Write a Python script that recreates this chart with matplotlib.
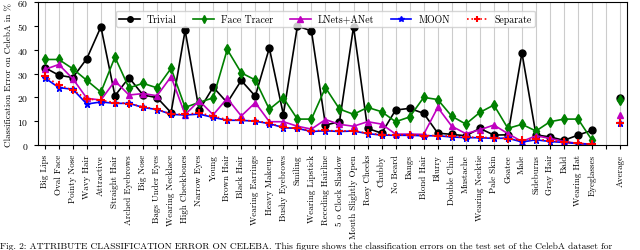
import numpy as np
import matplotlib
matplotlib.use("Agg")
import matplotlib.pyplot as plt

plt.rcParams['font.family'] = ['cmr10', 'DejaVu Serif']
plt.rcParams['mathtext.fontset'] = 'cm'
plt.rcParams['axes.formatter.use_mathtext'] = True

attributes = ["Big Lips", "Oval Face", "Pointy Nose", "Wavy Hair", "Attractive",
              "Straight Hair", "Arched Eyebrows", "Big Nose", "Bags Under Eyes",
              "Wearing Necklace", "High Cheekbones", "Narrow Eyes", "Young",
              "Brown Hair", "Black Hair", "Wearing Earrings", "Heavy Makeup",
              "Bushy Eyebrows", "Smiling", "Wearing Lipstick", "Receding Hairline",
              "5 o Clock Shadow", "Mouth Slightly Open", "Rosy Cheeks", "Chubby",
              "No Beard", "Bangs", "Blond Hair", "Blurry", "Double Chin", "Mustache",
              "Wearing Necktie", "Pale Skin", "Goatee", "Male", "Sideburns",
              "Gray Hair", "Bald", "Wearing Hat", "Eyeglasses"]

trivial = [32.5, 29.3, 28.3, 36.3, 49.6, 20.7, 28.3, 21.0, 19.9, 13.6, 48.1, 14.6, 24.3,
           17.8, 27.1, 20.5, 40.7, 12.8, 49.9, 47.9, 8.4, 9.8, 49.6, 7.0, 5.0, 14.7, 15.4,
           13.3, 5.0, 4.5, 3.9, 7.0, 4.2, 4.3, 38.7, 4.3, 3.4, 2.0, 4.2, 6.2]
face_tracer = [35.9, 35.9, 32.0, 27.1, 22.2, 36.9, 24.0, 25.9, 24.0, 32.2, 15.8, 17.9, 19.8,
               40.1, 30.3, 27.3, 15.0, 19.8, 10.9, 10.9, 24.1, 15.1, 12.9, 15.8, 14.0, 9.8, 11.8,
               20.0, 19.1, 12.1, 8.8, 13.7, 16.8, 7.0, 8.7, 5.9, 9.8, 10.9, 10.9, 2.0]
lnets = [31.7, 33.8, 27.8, 19.6, 18.9, 26.9, 21.0, 21.6, 20.7, 28.7, 12.8, 18.6, 12.7,
         19.6, 12.2, 17.8, 9.8, 9.8, 7.9, 6.7, 10.7, 8.7, 7.9, 9.8, 8.8, 4.6, 4.6,
         4.5, 15.8, 7.9, 4.8, 6.4, 8.4, 4.8, 1.5, 3.9, 2.8, 1.5, 0.7, 0.4]
moon = [28.2, 24.1, 23.4, 17.2, 18.1, 17.5, 17.5, 15.8, 14.9, 12.9, 12.6, 13.0, 11.6,
        10.4, 10.4, 10.0, 9.0, 7.3, 7.0, 5.7, 6.0, 5.7, 5.9, 4.8, 4.2, 4.1, 4.1,
        3.9, 3.9, 3.4, 3.1, 3.1, 2.8, 2.9, 1.3, 2.2, 1.5, 1.1, 0.6, 0.3]
separate = [28.9, 25.2, 23.1, 19.3, 18.8, 17.8, 17.4, 16.0, 15.0, 13.0, 12.9, 13.5, 12.1,
            10.7, 10.4, 10.1, 9.3, 7.4, 7.0, 6.0, 6.2, 5.8, 6.1, 4.9, 4.4, 4.3, 4.3,
            4.0, 4.0, 3.7, 3.3, 3.3, 3.0, 2.7, 2.0, 2.5, 1.8, 1.3, 0.7, 0.4]
averages = {"Trivial": 19.9, "Face Tracer": 18.9, "LNets+ANet": 12.7, "MOON": 9.1, "Separate": 9.2}

series = [
    ("Trivial", trivial, dict(color="black", linestyle="-", marker="o", markersize=5)),
    ("Face Tracer", face_tracer, dict(color="green", linestyle="-", marker="d", markersize=5)),
    ("LNets+ANet", lnets, dict(color="m", linestyle="-", marker="^", markersize=5)),
    ("MOON", moon, dict(color="blue", linestyle="-", marker="*", markersize=5)),
    ("Separate", separate, dict(color="red", linestyle=":", marker="+", markersize=6, markeredgewidth=1.5)),
]

x = np.arange(len(attributes))
x_avg = len(attributes) + 1

fig = plt.figure(figsize=(6.4, 2.51), dpi=100)
ax = fig.add_axes([0.059, 0.418, 0.921, 0.57])

for name, vals, style in series:
    ax.plot(x, vals, label=name, linewidth=1.2, **style)
    s = dict(style)
    s.pop("linestyle")
    ax.plot([x_avg], [averages[name]], linestyle="none", **s)

ax.set_xlim(-0.5, x_avg + 0.5)
ax.set_ylim(0, 60)
ax.set_yticks(np.arange(0, 61, 10))
ticks = list(x) + [len(attributes), x_avg]
ax.set_xticks(ticks)
ax.set_xticklabels(attributes + ["", "Average"], rotation=90, fontsize=6.5)
ax.tick_params(axis="y", labelsize=7, length=3)
ax.tick_params(axis="x", length=3)
ax.grid(axis="x", color="#cccccc", linewidth=0.8)
ax.set_axisbelow(True)
ax.set_ylabel("Classification Error on CelebA in %", fontsize=6.6, labelpad=3)

ax.legend(loc="upper right", ncol=5, fontsize=7.1, frameon=True, framealpha=0.8,
          borderpad=0.35, handlelength=2.1, handletextpad=0.7, columnspacing=1.7,
          markerscale=0.8, bbox_to_anchor=(0.852, 0.975))

fig.text(0.0, 0.0,
         "Fig. 2: ATTRIBUTE CLASSIFICATION ERROR ON CELEBA. This figure shows the classification errors on the test set of the CelebA dataset for",
         fontsize=6.8, ha="left", va="bottom")

fig.savefig("out.png", dpi=100)
